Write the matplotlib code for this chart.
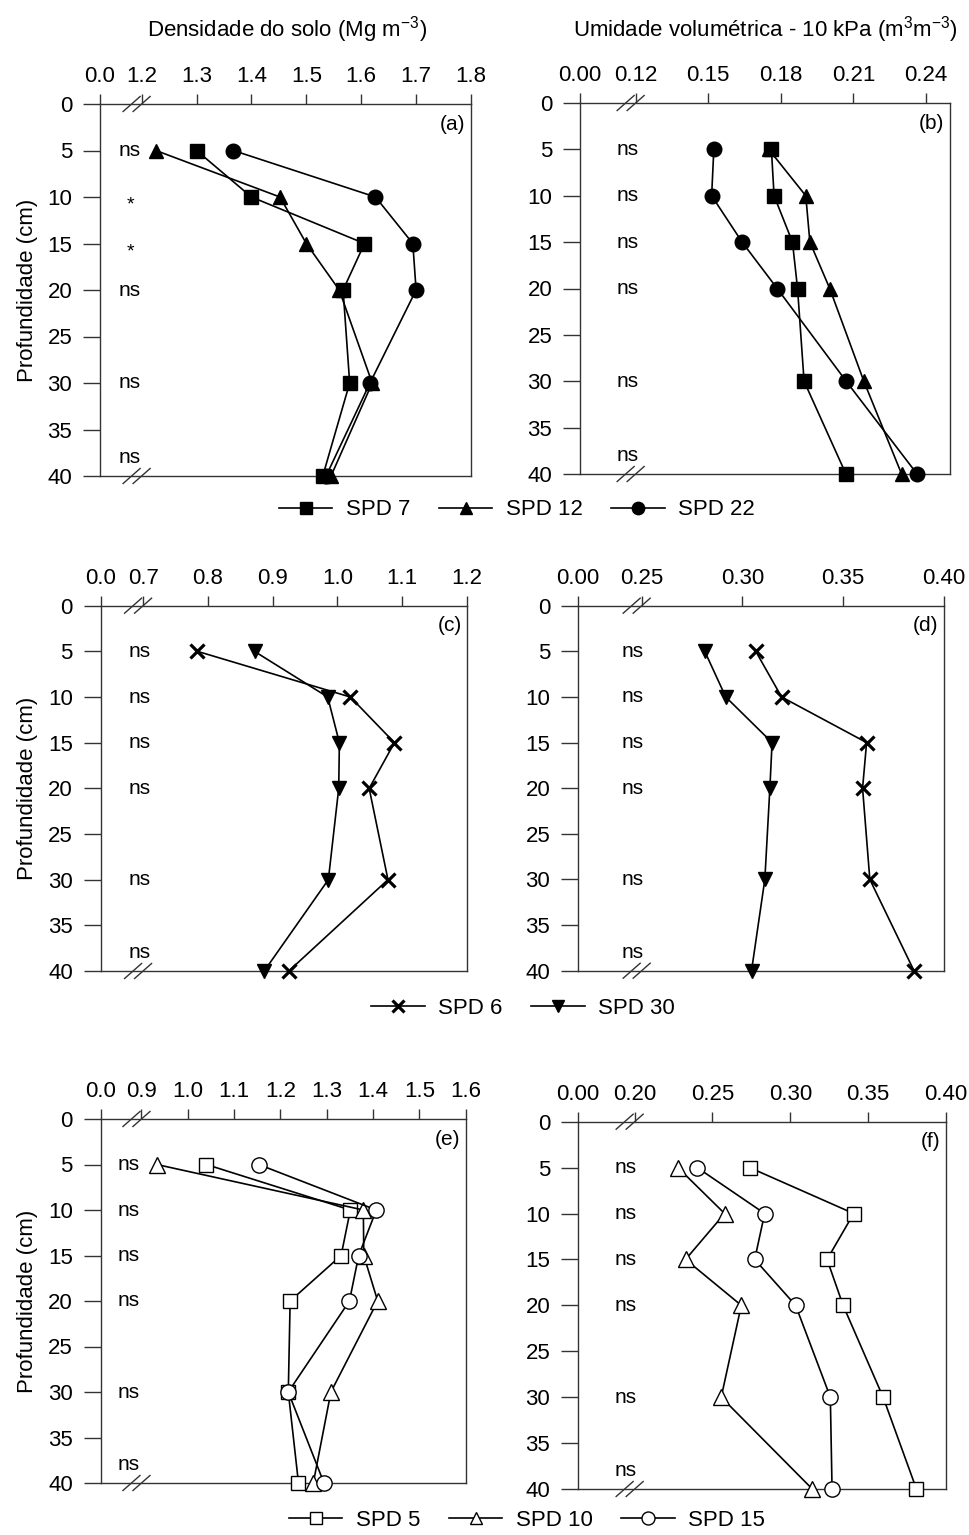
import matplotlib
matplotlib.use("Agg")
import matplotlib.pyplot as plt
from matplotlib.transforms import blended_transform_factory

plt.rcParams['font.family'] = ['Liberation Sans', 'DejaVu Sans']
plt.rcParams['mathtext.fontset'] = 'custom'
plt.rcParams['mathtext.rm'] = 'Liberation Sans'
plt.rcParams['mathtext.it'] = 'Liberation Sans:italic'

# depths (cm)
depth = [5, 10, 15, 20, 30, 40]

# (a) soil bulk density, group 1
dens_spd7 = [1.300, 1.400, 1.606, 1.567, 1.579, 1.530]
dens_spd12 = [1.226, 1.452, 1.500, 1.560, 1.620, 1.545]
dens_spd22 = [1.367, 1.626, 1.694, 1.700, 1.616, 1.536]
# (b) volumetric moisture, group 1
hum_spd7 = [0.1761, 0.1772, 0.1848, 0.1869, 0.1896, 0.2069]
hum_spd12 = [0.1750, 0.1903, 0.1920, 0.2002, 0.2143, 0.2299]
hum_spd22 = [0.1523, 0.1514, 0.1640, 0.1785, 0.2070, 0.2363]
# (c) bulk density, group 2
dens_spd6 = [0.784, 1.020, 1.088, 1.049, 1.078, 0.925]
dens_spd30 = [0.872, 0.985, 1.003, 1.002, 0.986, 0.887]
# (d) moisture, group 2
hum_spd6 = [0.3066, 0.3194, 0.3616, 0.3596, 0.3632, 0.3851]
hum_spd30 = [0.2813, 0.2917, 0.3147, 0.3136, 0.3111, 0.3045]
# (e) bulk density, group 3
dens_spd5 = [1.040, 1.351, 1.331, 1.221, 1.217, 1.239]
dens_spd10 = [0.933, 1.379, 1.380, 1.410, 1.309, 1.271]
dens_spd15 = [1.153, 1.407, 1.369, 1.349, 1.217, 1.294]
# (f) moisture, group 3
hum_spd5 = [0.2739, 0.3407, 0.3236, 0.3339, 0.3596, 0.3810]
hum_spd10 = [0.2278, 0.2578, 0.2327, 0.2685, 0.2556, 0.3141]
hum_spd15 = [0.2402, 0.2835, 0.2771, 0.3034, 0.3257, 0.3268]

# significance labels
sig_a = ['ns', '*', '*', 'ns', 'ns', 'ns']
sig_ns = ['ns', 'ns', 'ns', 'ns', 'ns', 'ns']
sig_depth = [5, 10, 15, 20, 30, 38]

# x axis ticks after the break
ticks_a = [1.2, 1.3, 1.4, 1.5, 1.6, 1.7, 1.8]
ticks_b = [0.12, 0.15, 0.18, 0.21, 0.24]
ticks_c = [0.7, 0.8, 0.9, 1.0, 1.1, 1.2]
ticks_d = [0.25, 0.30, 0.35, 0.40]
ticks_e = [0.9, 1.0, 1.1, 1.2, 1.3, 1.4, 1.5, 1.6]
ticks_f = [0.20, 0.25, 0.30, 0.35, 0.40]

FS = 16
W, H = 970, 1535
fig = plt.figure(figsize=(W / 100, H / 100), dpi=100)


def make_ax(L, R, T, B):
    return fig.add_axes([L / W, 1 - B / H, (R - L) / W, (B - T) / H])


def setup(ax, box, lo, hi, ticks, zero, fmt, letter, sig, sig_x, ylabel):
    L, R, T, B = box
    ax.set_xlim(lo, hi)
    ax.set_ylim(40, 0)
    ax.xaxis.tick_top()
    ax.set_xticks([lo] + ticks)
    ax.set_xticklabels([zero] + [fmt % t for t in ticks])
    ax.xaxis.get_major_ticks()[1].tick2line.set_visible(False)
    ax.set_yticks(range(0, 45, 5))
    ax.tick_params(axis='x', direction='out', length=7, width=1, pad=5,
                   labelsize=FS, color='#333333', top=True, bottom=False)
    ax.tick_params(axis='y', direction='out', length=12, width=1, pad=8,
                   labelsize=FS, color='#333333', left=True, right=False)
    for s in ax.spines.values():
        s.set_color('#333333')
        s.set_linewidth(1)
    if ylabel:
        ax.set_ylabel('Profundidade (cm)', fontsize=FS, labelpad=7)
    ax.text(0.985, 0.945, letter, transform=ax.transAxes, ha='right',
            va='center', fontsize=FS - 1)
    tr = blended_transform_factory(ax.transAxes, ax.transData)
    for lab, d in zip(sig, sig_depth):
        if lab == '*':
            ax.text(sig_x, d + 0.9, lab, transform=tr, ha='center',
                    va='center', fontsize=14)
        else:
            ax.text(sig_x, d, lab, transform=tr, ha='center', va='center',
                    fontsize=FS - 1)
    # axis break marks
    w = R - L
    h = B - T
    xc = (ticks[0] - lo) / (hi - lo) - 5 / w
    dx, dy, sep = 8.5 / w, 7.5 / h, 5 / w
    for y in (0, 1):
        for off in (-sep, sep):
            ax.plot([xc + off - dx, xc + off + dx], [y - dy, y + dy],
                    transform=ax.transAxes, color='#333333', lw=1,
                    clip_on=False, zorder=5)


def series(ax, x, marker, ms, label, filled=True, mew=1.0):
    face = 'black' if filled else 'white'
    return ax.plot(x, depth, color='black', lw=1.2, marker=marker,
                   markersize=ms, markerfacecolor=face,
                   markeredgecolor='black', markeredgewidth=mew,
                   label=label, clip_on=False, zorder=4)[0]


box_a = (100, 471, 104, 476)
box_b = (580, 950, 103, 474)
box_c = (100.7, 467, 605.7, 971)
box_d = (578, 944, 605.7, 970.7)
box_e = (100.7, 465.7, 1119, 1483)
box_f = (578, 946, 1121.7, 1489)

ax_a = make_ax(*box_a)
ax_b = make_ax(*box_b)
ax_c = make_ax(*box_c)
ax_d = make_ax(*box_d)
ax_e = make_ax(*box_e)
ax_f = make_ax(*box_f)

setup(ax_a, box_a, 1.1242, 1.80, ticks_a, '0.0', '%.1f', '(a)', sig_a, 0.081, True)
setup(ax_b, box_b, 0.097, 0.2499, ticks_b, '0.00', '%.2f', '(b)', sig_ns, 0.13, False)
setup(ax_c, box_c, 0.6346, 1.20, ticks_c, '0.0', '%.1f', '(c)', sig_ns, 0.107, True)
setup(ax_d, box_d, 0.2184, 0.40, ticks_d, '0.00', '%.2f', '(d)', sig_ns, 0.148, False)
setup(ax_e, box_e, 0.812, 1.60, ticks_e, '0.0', '%.1f', '(e)', sig_ns, 0.076, True)
setup(ax_f, box_f, 0.1636, 0.40, ticks_f, '0.00', '%.2f', '(f)', sig_ns, 0.13, False)

# row 1
h1 = series(ax_a, dens_spd7, 's', 9.5, 'SPD 7')
h2 = series(ax_a, dens_spd12, '^', 10.5, 'SPD 12')
h3 = series(ax_a, dens_spd22, 'o', 10.5, 'SPD 22')
series(ax_b, hum_spd7, 's', 9.5, 'SPD 7')
series(ax_b, hum_spd12, '^', 10.5, 'SPD 12')
series(ax_b, hum_spd22, 'o', 10.5, 'SPD 22')

# row 2
h4 = series(ax_c, dens_spd6, 'x', 10, 'SPD 6', mew=2.3)
h5 = series(ax_c, dens_spd30, 'v', 10.5, 'SPD 30')
series(ax_d, hum_spd6, 'x', 10, 'SPD 6', mew=2.3)
series(ax_d, hum_spd30, 'v', 10.5, 'SPD 30')

# row 3
h6 = series(ax_e, dens_spd5, 's', 10, 'SPD 5', filled=False)
h7 = series(ax_e, dens_spd10, '^', 11, 'SPD 10', filled=False)
h8 = series(ax_e, dens_spd15, 'o', 11, 'SPD 15', filled=False)
series(ax_f, hum_spd5, 's', 10, 'SPD 5', filled=False)
series(ax_f, hum_spd10, '^', 11, 'SPD 10', filled=False)
series(ax_f, hum_spd15, 'o', 11, 'SPD 15', filled=False)

fig.text(287 / W, 1 - 30 / H, 'Densidade do solo (Mg m$^{-3}$)',
         ha='center', va='center', fontsize=FS)
fig.text(765 / W, 1 - 30 / H, 'Umidade volumétrica - 10 kPa (m$^{3}$m$^{-3}$)',
         ha='center', va='center', fontsize=FS)

leg_kw = dict(loc='center', frameon=False, handlelength=2.4,
              handletextpad=0.6, columnspacing=1.3, fontsize=FS,
              markerscale=0.85)
fig.legend(handles=[h1, h2, h3], ncol=3,
           bbox_to_anchor=(517 / W, 1 - 510 / H), **leg_kw)
fig.legend(handles=[h4, h5], ncol=2,
           bbox_to_anchor=(523 / W, 1 - 1008 / H), **leg_kw)
fig.legend(handles=[h6, h7, h8], ncol=3,
           bbox_to_anchor=(527 / W, 1 - 1520 / H), **leg_kw)

fig.savefig('out.png', dpi=100)
